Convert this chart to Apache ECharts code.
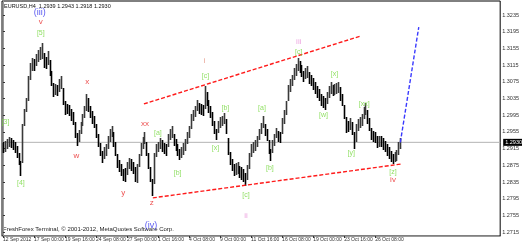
<!DOCTYPE html>
<html><head><meta charset="utf-8">
<script src="https://cdn.jsdelivr.net/npm/echarts@6/dist/echarts.min.js"></script>
<style>html,body{margin:0;padding:0;background:#fff}#c{width:522px;height:243px}</style>
</head><body><div id="c"></div>
<script>
// ---- data ----
const symbolName = 'EURUSD,H4';
const quote = ['1.2939', '1.2943', '1.2918', '1.2930'];
const footerText = 'FreshForex Terminal, \u00a9 2001-2012, MetaQuotes Software Corp.';
const timeLabels = ['12 Sep 2012','17 Sep 00:00','19 Sep 16:00','24 Sep 08:00','27 Sep 00:00','1 Oct 16:00','4 Oct 08:00','9 Oct 00:00','11 Oct 16:00','16 Oct 08:00','19 Oct 00:00','23 Oct 16:00','26 Oct 08:00'];
const timeLabelBars = [0,16,32,48,64,80,96,112,128,144,160,176,192];
const priceLabels = [1.3235,1.3195,1.3155,1.3115,1.3075,1.3035,1.2995,1.2955,1.2915,1.2875,1.2835,1.2795,1.2755,1.2715];
const highs = [
1.2930,1.2934,1.2938,1.2942,1.2940,1.2936,1.2930,1.2922,1.2904,1.2885,
1.2975,1.3010,1.3035,1.3090,1.3120,1.3132,1.3130,1.3142,1.3152,1.3158,
1.3168,1.3145,1.3135,1.3148,1.3128,1.3100,1.3072,1.3070,1.3068,1.3082,
1.3090,1.3060,1.3030,1.3022,1.3020,1.3010,1.3002,1.2978,1.2952,1.2960,
1.2978,1.2998,1.3018,1.3045,1.3035,1.3018,1.3005,1.2992,1.2975,1.2950,
1.2928,1.2910,1.2918,1.2925,1.2945,1.2962,1.2968,1.2955,1.2930,1.2902,
1.2888,1.2878,1.2866,1.2868,1.2882,1.2893,1.2890,1.2882,1.2870,1.2878,
1.2902,1.2928,1.2942,1.2954,1.2932,1.2905,1.2870,1.2842,1.2905,1.2925,
1.2932,1.2940,1.2935,1.2928,1.2925,1.2950,1.2962,1.2968,1.2950,1.2938,
1.2926,1.2915,1.2918,1.2928,1.2938,1.2955,1.2970,1.2998,1.3008,1.3016,
1.3032,1.3025,1.3022,1.3020,1.3065,1.3050,1.3032,1.3018,1.3002,1.2982,
1.2962,1.2982,1.2990,1.2994,1.3000,1.2985,1.2940,1.2908,1.2890,1.2878,
1.2880,1.2882,1.2874,1.2870,1.2865,1.2856,1.2875,1.2905,1.2925,1.2930,
1.2936,1.2944,1.2962,1.2976,1.2992,1.2975,1.2962,1.2935,1.2915,1.2935,
1.2950,1.2965,1.2958,1.2955,1.2988,1.3008,1.3028,1.3068,1.3082,1.3092,
1.3108,1.3118,1.3132,1.3125,1.3115,1.3102,1.3108,1.3112,1.3098,1.3092,
1.3085,1.3075,1.3064,1.3058,1.3045,1.3040,1.3036,1.3050,1.3064,1.3075,
1.3068,1.3070,1.3072,1.3074,1.3062,1.3046,1.3020,1.2990,1.2982,1.2988,
1.2978,1.2955,1.2975,1.2985,1.2990,1.2998,1.3014,1.3025,1.3008,1.2988,
1.2965,1.2958,1.2954,1.2944,1.2946,1.2944,1.2940,1.2934,1.2926,1.2918,
1.2910,1.2902,1.2908,1.2912,1.2930,1.2940];
const lows = [
1.2905,1.2908,1.2914,1.2918,1.2916,1.2912,1.2905,1.2892,1.2876,1.2850,
1.2880,1.2968,1.3002,1.3030,1.3080,1.3102,1.3100,1.3112,1.3122,1.3128,
1.3130,1.3108,1.3105,1.3115,1.3088,1.3065,1.3038,1.3044,1.3040,1.3050,
1.3058,1.3020,1.2995,1.2998,1.2992,1.2982,1.2972,1.2940,1.2922,1.2930,
1.2950,1.2968,1.2988,1.3005,1.3002,1.2988,1.2975,1.2965,1.2940,1.2918,
1.2898,1.2880,1.2890,1.2898,1.2915,1.2932,1.2942,1.2920,1.2898,1.2868,
1.2858,1.2850,1.2838,1.2834,1.2852,1.2866,1.2862,1.2855,1.2836,1.2832,
1.2870,1.2898,1.2915,1.2925,1.2898,1.2865,1.2835,1.2802,1.2830,1.2895,
1.2906,1.2914,1.2908,1.2902,1.2898,1.2918,1.2935,1.2940,1.2922,1.2910,
1.2898,1.2888,1.2892,1.2900,1.2910,1.2925,1.2940,1.2962,1.2980,1.2990,
1.3005,1.2998,1.2996,1.2994,1.3010,1.3018,1.3000,1.2988,1.2970,1.2950,
1.2935,1.2952,1.2965,1.2968,1.2975,1.2950,1.2900,1.2875,1.2862,1.2850,
1.2852,1.2855,1.2845,1.2840,1.2836,1.2826,1.2840,1.2865,1.2895,1.2904,
1.2910,1.2918,1.2935,1.2950,1.2964,1.2946,1.2934,1.2902,1.2886,1.2905,
1.2922,1.2940,1.2932,1.2928,1.2950,1.2975,1.2995,1.3030,1.3050,1.3065,
1.3080,1.3090,1.3100,1.3095,1.3086,1.3075,1.3082,1.3084,1.3070,1.3064,
1.3056,1.3046,1.3036,1.3030,1.3018,1.3012,1.3008,1.3022,1.3035,1.3045,
1.3040,1.3044,1.3046,1.3048,1.3030,1.3016,1.2985,1.2952,1.2955,1.2960,
1.2948,1.2914,1.2930,1.2958,1.2964,1.2970,1.2986,1.2996,1.2975,1.2958,
1.2936,1.2930,1.2928,1.2916,1.2920,1.2918,1.2912,1.2906,1.2898,1.2890,
1.2882,1.2878,1.2882,1.2886,1.2900,1.2915];
const lastPrice = 1.2930;
const upperChannel = [[72.7, 1.3022], [184.8, 1.3185]];
const lowerChannel = [[77.3, 1.2797], [205.3, 1.2878]];
const projection = [[205, 1.2930], [214.5, 1.3206]];
// wave labels: [bar, price, text, group]
const waveLabels = [
  [18.9, 1.3240, '(iii)', 'blue'], [19.5, 1.3218, 'v', 'red'], [19.5, 1.3192, '[5]', 'green'],
  [1.3, 1.2979, '[3]', 'green'], [9.2, 1.2833, '[4]', 'green'],
  [43.5, 1.3075, 'x', 'red'], [37.9, 1.2897, 'w', 'red'], [62, 1.2809, 'y', 'red'],
  [73.2, 1.2974, 'xx', 'red'], [76.8, 1.2785, 'z', 'red'], [76.3, 1.2730, '(iv)', 'blue'],
  [79.9, 1.2952, '[a]', 'green'], [90.1, 1.2857, '[b]', 'green'],
  [103.9, 1.3125, 'i', 'salmon'], [104.5, 1.3089, '[c]', 'green'],
  [114.7, 1.3012, '[b]', 'green'], [109.6, 1.2916, '[x]', 'green'],
  [125.4, 1.2804, '[c]', 'green'], [125.4, 1.2754, 'ii', 'pink'],
  [133.6, 1.3012, '[a]', 'green'], [137.7, 1.2869, '[b]', 'green'],
  [152.6, 1.3170, 'iii', 'pink'], [152.6, 1.3146, '[c]', 'green'],
  [171, 1.3094, '[x]', 'green'], [165.4, 1.2995, '[w]', 'green'],
  [179.7, 1.2905, '[y]', 'green'], [186.4, 1.3022, '[xx]', 'green'],
  [201.2, 1.2859, '[z]', 'green'], [201.2, 1.2840, 'iv', 'red']
];

// ---- styles ----
const groupStyle = {
  green: {color: '#74d83c', fontSize: 7},
  red: {color: '#e82222', fontSize: 8},
  blue: {color: '#3030ee', fontSize: 9},
  pink: {color: '#e890d8', fontSize: 8},
  salmon: {color: '#e48c78', fontSize: 8}
};
const FONT = 'Liberation Sans';

const chart = echarts.init(document.getElementById('c'), null, {renderer: 'canvas'});
const barData = highs.map((h, i) => [i, h, lows[i]]);

chart.setOption({
  animation: false,
  backgroundColor: '#fff',
  grid: {left: 1, right: 19, top: 1, bottom: 7, show: true, borderColor: '#000', borderWidth: 1},
  xAxis: {
    type: 'value', min: -0.5, max: 256.5,
    splitLine: {show: false},
    axisLine: {show: true, lineStyle: {color: '#999', width: 1}},
    axisTick: {show: true, customValues: timeLabelBars, length: 2, lineStyle: {color: '#333'}},
    axisLabel: {
      customValues: timeLabelBars, fontSize: 5, color: '#333', fontFamily: FONT, margin: 1, align: 'left',
      formatter: v => timeLabels[timeLabelBars.indexOf(Math.round(v))] || ''
    }
  },
  yAxis: {
    type: 'value', position: 'right', min: 1.27057, max: 1.32685,
    splitLine: {show: false},
    axisLine: {show: true, lineStyle: {color: '#999', width: 1}},
    axisTick: {show: true, customValues: priceLabels, length: 2, lineStyle: {color: '#333'}},
    axisLabel: {customValues: priceLabels, fontSize: 5.5, color: '#333', fontFamily: FONT, margin: 2,
      formatter: v => v.toFixed(4)}
  },
  graphic: [
    {type: 'text', left: 4, top: 3, style: {text: symbolName + '  ' + quote.join(' '), fontSize: 5.5, fill: '#111', fontFamily: FONT}},
    {type: 'text', left: 3, top: 226, style: {text: footerText, fontSize: 6, fill: '#222', fontFamily: FONT}}
  ],
  series: [
    {
      type: 'line', data: [[-0.5, lastPrice], [256.5, lastPrice]], symbol: 'none', silent: true,
      lineStyle: {color: '#b4b4b4', width: 1}, z: 2,
      endLabel: {show: true, formatter: lastPrice.toFixed(4), backgroundColor: '#000', color: '#fff',
        fontSize: 5.5, fontFamily: FONT, padding: [1, 2, 0, 2], distance: 3}
    },
    {
      type: 'custom', silent: true, clip: true,
      data: barData,
      renderItem(params, api) {
        const i = api.value(0), hi = api.value(1), lo = api.value(2);
        const a = api.coord([i, hi]), b = api.coord([i, lo]);
        let up = false;
        if (i > 0) up = (hi + lo) > (highs[i - 1] + lows[i - 1]);
        const x = Math.round(a[0]) + 0.5;
        return {type: 'line', shape: {x1: x, y1: Math.round(a[1]), x2: x, y2: Math.round(b[1])},
          style: {stroke: up ? '#3a3a3a' : '#000', lineWidth: 1.6}};
      },
      z: 3
    },
    {type: 'line', data: upperChannel, symbol: 'none', silent: true,
      lineStyle: {color: '#ff1a1a', width: 1.4, type: [4, 2]}, z: 4},
    {type: 'line', data: lowerChannel, symbol: 'none', silent: true,
      lineStyle: {color: '#ff1a1a', width: 1.4, type: [4, 2]}, z: 4},
    {type: 'line', data: projection, symbol: 'none', silent: true,
      lineStyle: {color: '#3a3aff', width: 1.4, type: [4, 2]}, z: 4},
    {type: 'scatter', symbolSize: 0, silent: true, z: 5,
      data: waveLabels.map(w => ({
        value: [w[0], w[1]],
        label: {show: true, position: 'inside', formatter: w[2], color: groupStyle[w[3]].color,
          fontSize: groupStyle[w[3]].fontSize, fontFamily: FONT}
      }))}
  ]
});
</script></body></html>
